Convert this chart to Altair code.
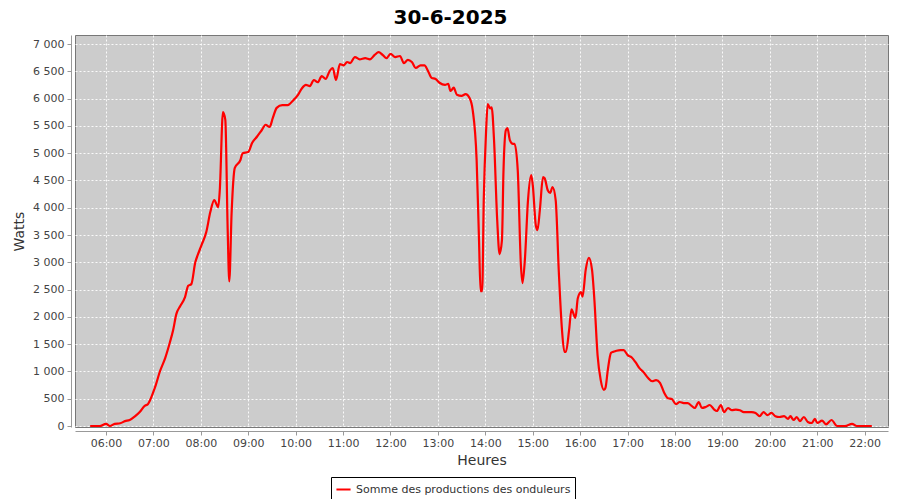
import altair as alt
import pandas as pd

# ---- data (time HH:MM, power in W) ----
times_morning = ["05:40", "05:52", "06:00", "06:05", "06:11", "06:18", "06:24", "06:30", "06:37", "06:43",
                 "06:49", "06:53", "06:56", "06:59", "07:03", "07:08", "07:15", "07:21", "07:25", "07:29",
                 "07:34", "07:40", "07:44", "07:48", "07:53", "07:56", "08:01", "08:07", "08:12", "08:17",
                 "08:22", "08:24", "08:28", "08:31", "08:34", "08:36", "08:39", "08:43", "08:50", "08:53"]
watts_morning = [0, 0, 40, 0, 40, 50, 90, 110, 180, 260,
                 370, 400, 480, 590, 750, 990, 1250, 1540, 1760, 2050,
                 2200, 2360, 2570, 2600, 3000, 3130, 3320, 3560, 3920, 4140,
                 4010, 4320, 5750, 5610, 3590, 2650, 3920, 4730, 4870, 5000]

times_midday = ["09:00", "09:05", "09:11", "09:17", "09:22", "09:27", "09:31", "09:36", "09:43", "09:50",
                "09:57", "10:03", "10:08", "10:13", "10:18", "10:23", "10:28", "10:33", "10:38", "10:43",
                "10:47", "10:51", "10:56", "11:01", "11:05", "11:09", "11:15", "11:21", "11:28", "11:34",
                "11:40", "11:45", "11:50", "11:55", "12:00", "12:06", "12:12", "12:17", "12:22", "12:27",
                "12:32", "12:38", "12:43", "12:47", "12:52", "12:57", "13:02", "13:09", "13:13", "13:16",
                "13:20", "13:24", "13:30", "13:35", "13:40", "13:44"]
watts_midday = [5020, 5190, 5300, 5420, 5520, 5480, 5640, 5830, 5880, 5880,
                5970, 6070, 6190, 6250, 6230, 6340, 6300, 6410, 6360, 6505,
                6560, 6340, 6630, 6610, 6670, 6650, 6760, 6720, 6740, 6720,
                6800, 6850, 6800, 6740, 6820, 6760, 6780, 6650, 6710, 6670,
                6560, 6610, 6610, 6520, 6380, 6360, 6290, 6250, 6270, 6140,
                6200, 6070, 6050, 6080, 6010, 5790]

times_afternoon = ["13:49", "13:52", "13:54", "13:56", "13:58", "14:01", "14:03", "14:06", "14:08", "14:11",
                   "14:15", "14:18", "14:21", "14:23", "14:26", "14:28", "14:31", "14:35", "14:37", "14:41",
                   "14:45", "14:47", "14:50", "14:54", "14:58", "15:00", "15:04", "15:06", "15:09", "15:13",
                   "15:15", "15:19", "15:22", "15:25", "15:29", "15:33", "15:37", "15:40", "15:42", "15:46",
                   "15:49", "15:54", "15:57", "16:01", "16:03", "16:07", "16:11", "16:15", "16:18", "16:22",
                   "16:26", "16:30", "16:32", "16:35", "16:39", "16:42", "16:46", "16:51", "16:55"]
watts_afternoon = [4870, 3410, 2470, 2470, 4140, 5420, 5900, 5820, 5840, 5240,
                   3780, 3150, 3400, 4690, 5420, 5460, 5240, 5170, 5170, 4690,
                   2950, 2620, 3040, 4140, 4600, 4420, 3665, 3590, 3960, 4560,
                   4540, 4320, 4270, 4380, 4140, 2820, 1760, 1360, 1360, 1760,
                   2140, 1980, 2340, 2455, 2370, 2860, 3080, 2860, 2310, 1300,
                   840, 660, 700, 1030, 1340, 1360, 1380, 1390, 1390]

times_evening = ["17:00", "17:05", "17:10", "17:15", "17:20", "17:26", "17:31", "17:36", "17:41", "17:46",
                 "17:51", "17:56", "18:01", "18:06", "18:11", "18:16", "18:21", "18:25", "18:30", "18:34",
                 "18:39", "18:44", "18:49", "18:53", "18:58", "19:02", "19:07", "19:12", "19:17", "19:22",
                 "19:27", "19:32", "19:37", "19:42", "19:47", "19:52", "19:57", "20:02", "20:07", "20:12",
                 "20:18", "20:23", "20:26", "20:30", "20:34", "20:38", "20:43", "20:48", "20:53", "20:57",
                 "21:00", "21:06", "21:11", "21:18", "21:25", "21:35", "21:44", "21:50", "22:00", "22:09"]
watts_evening = [1300, 1260, 1170, 1060, 990, 880, 820, 840, 790, 620,
                 510, 495, 400, 440, 420, 420, 370, 330, 440, 330,
                 350, 385, 310, 275, 385, 255, 330, 290, 300, 290,
                 255, 255, 255, 240, 180, 255, 200, 240, 180, 165,
                 180, 130, 180, 110, 165, 90, 165, 75, 55, 130,
                 55, 100, 30, 110, 0, 0, 40, 0, 0, 0]

y_ticks = [0, 500, 1000, 1500, 2000, 2500, 3000, 3500, 4000, 4500, 5000, 5500, 6000, 6500, 7000]
x_tick_hours = list(range(6, 23))

series_name = "Somme des productions des onduleurs"
chart_title = "30-6-2025"
day = "2025-06-30"

times = times_morning + times_midday + times_afternoon + times_evening
watts = watts_morning + watts_midday + watts_afternoon + watts_evening
assert len(times) == len(watts)

df = pd.DataFrame({
    "heure": [f"{day}T{t}:00" for t in times],
    "watts": watts,
    "serie": [series_name] * len(times),
})


def dt(h, m=0, s=0):
    return alt.DateTime(year=2025, month=6, date=30, hours=h, minutes=m, seconds=s)


FONT = "DejaVu Sans"

line = alt.Chart(df).mark_line(strokeWidth=2.2, interpolate="monotone").encode(
    x=alt.X(
        "heure:T",
        title="Heures",
        scale=alt.Scale(domain=[dt(5, 20, 48), dt(22, 29, 30)]),
        axis=alt.Axis(
            values=[dt(h) for h in x_tick_hours],
            format="%H:%M",
            labelFontSize=11,
            labelColor="#444444",
            labelPadding=2,
            titleFontSize=14,
            titleFontWeight="normal",
            titleColor="#333333",
            titlePadding=5,
            tickSize=4,
            tickColor="#999999",
            domainColor="#999999",
            offset=4,
            grid=True,
            gridColor="#ffffff",
            gridDash=[2, 2],
            gridOpacity=0.9,
            labelFlush=False,
        ),
    ),
    y=alt.Y(
        "watts:Q",
        title="Watts",
        scale=alt.Scale(domain=[-18, 7165], nice=False, zero=False),
        axis=alt.Axis(
            values=y_ticks,
            labelExpr="replace(format(datum.value, ','), ',', ' ')",
            labelFontSize=11,
            labelColor="#444444",
            labelPadding=3,
            titleFontSize=14,
            titleFontWeight="normal",
            titleColor="#333333",
            titlePadding=6,
            tickSize=4,
            tickColor="#999999",
            domainColor="#999999",
            offset=4,
            grid=True,
            gridColor="#ffffff",
            gridDash=[2, 2],
            gridOpacity=0.9,
            labelFlush=False,
        ),
    ),
    color=alt.Color(
        "serie:N",
        scale=alt.Scale(domain=[series_name], range=["#ff0000"]),
        legend=alt.Legend(
            title=None,
            orient="none",
            legendX=256,
            legendY=442,
            direction="horizontal",
            strokeColor="#000000",
            fillColor="#ffffff",
            padding=4,
            symbolType="stroke",
            symbolSize=200,
            symbolStrokeWidth=2,
            labelFontSize=11,
            labelColor="#333333",
            labelOffset=4,
            labelLimit=0,
        ),
    ),
)

chart = line.properties(
    width=813,
    height=392,
    title=alt.TitleParams(
        chart_title,
        font=FONT,
        fontSize=20,
        fontWeight="bold",
        color="#000000",
        anchor="middle",
        frame="group",
        dx=-31,
        offset=7,
    ),
    autosize=alt.AutoSizeParams(type="none"),
    padding={"left": 67, "top": 27, "right": 4, "bottom": 72},
).configure(font=FONT).configure_view(
    fill="#cccccc", stroke="#777777", strokeWidth=1
)

chart.save("out.html", embed_options={"renderer": "svg", "actions": False})
